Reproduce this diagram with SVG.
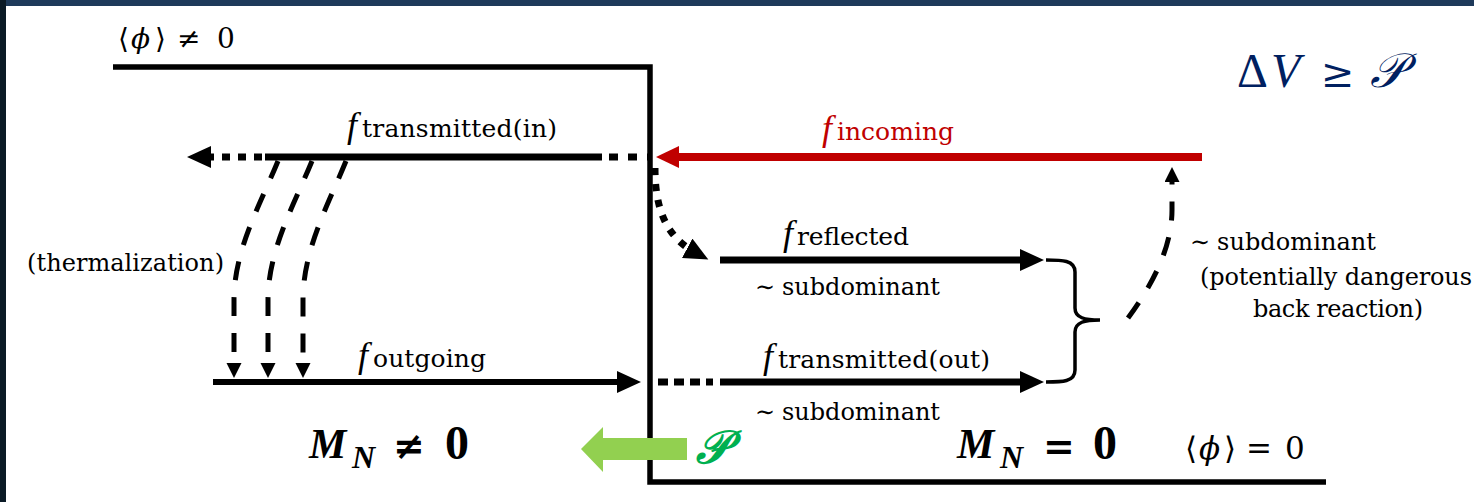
<svg xmlns="http://www.w3.org/2000/svg" width="1474" height="502" viewBox="0 0 1474 502">
<style>
.t{font-family:"DejaVu Serif",serif;font-size:24px;fill:#000}
.f{font-family:"Liberation Serif",serif;font-style:italic;font-size:36px;fill:#000}
.s{font-family:"DejaVu Serif",serif;font-style:normal;font-size:25px}
.m{font-family:"DejaVu Serif",serif;fill:#000}
.mb{font-family:"Liberation Serif",serif;font-weight:bold;font-style:italic;fill:#000}
.ln{fill:none;stroke:#000}
.red{fill:#c00000}
</style>
<defs>
<marker id="ah" markerUnits="userSpaceOnUse" markerWidth="26" markerHeight="24" refX="10" refY="11" orient="auto"><path d="M0,0 L24,11 L0,22 Z" fill="#000"/></marker>
<marker id="ahRed" markerUnits="userSpaceOnUse" markerWidth="26" markerHeight="24" refX="9" refY="11" orient="auto"><path d="M0,0 L23,11 L0,22 Z" fill="#c00000"/></marker>
<marker id="ahS" markerUnits="userSpaceOnUse" markerWidth="17" markerHeight="17" refX="5" refY="7.5" orient="auto"><path d="M0,0 L15,7.5 L0,15 Z" fill="#000"/></marker>
</defs>
<rect width="1474" height="502" fill="#fff"/>
<rect x="0" y="0" width="1474" height="6" fill="#1e3a5a"/>
<rect x="0" y="0" width="6" height="502" fill="#0b1a26"/>

<g id="wall">
<path class="ln" d="M113,67 H650 V482 H1326" stroke-width="5.5"/>
</g>

<g id="connectors">
<path class="ln" d="M602,157 H265" stroke-width="7"/>
<path class="ln" d="M609,157 H650" stroke-width="7" stroke-dasharray="9 10"/>
<path class="ln" d="M262,157 H201" stroke-width="7" stroke-dasharray="8 8" marker-end="url(#ah)"/>
<path fill="none" stroke="#c00000" d="M1202,157 H670" stroke-width="8" marker-end="url(#ahRed)"/>
<path class="ln" d="M655,168 C655,212 668,238 696,253" stroke-width="7" stroke-dasharray="7 9" marker-end="url(#ah)"/>
<path class="ln" d="M720,260 H1030" stroke-width="7" marker-end="url(#ah)"/>
<path class="ln" d="M213,382 H627" stroke-width="6" marker-end="url(#ah)"/>
<path class="ln" d="M658,382 H713" stroke-width="7" stroke-dasharray="10 6"/>
<path class="ln" d="M720,382 H1030" stroke-width="7" marker-end="url(#ah)"/>
<path class="ln" d="M278,161 C260,205 234,250 234,300 L234,368" stroke-width="5" stroke-dasharray="19 17" marker-end="url(#ahS)"/>
<path class="ln" d="M312,161 C294,205 268,250 268,300 L268,368" stroke-width="5" stroke-dasharray="19 17" marker-end="url(#ahS)"/>
<path class="ln" d="M346,161 C328,205 303,250 303,300 L303,368" stroke-width="5" stroke-dasharray="19 17" marker-end="url(#ahS)"/>
<path class="ln" d="M1046,260 C1062,260 1075,260 1075,272 L1075,308 C1075,318 1085,320 1100,320 C1085,320 1075,322 1075,332 L1075,370 C1075,382 1062,382 1046,382" stroke-width="3.5"/>
<path class="ln" d="M1128,318 C1150,288 1172,250 1172,210 L1172,177" stroke-width="5" stroke-dasharray="19 17" marker-end="url(#ahS)"/>
<polygon points="687,438 603,438 603,427 581,449 603,472 603,460 687,460" fill="#92d050"/>
</g>

<g id="phi-nonzero">
<text class="m" y="48" font-size="28"><tspan x="118">⟨</tspan><tspan x="131" font-style="italic">ϕ</tspan><tspan x="155">⟩</tspan><tspan x="177">≠</tspan><tspan x="217">0</tspan></text>
</g>
<g id="phi-zero">
<text class="m" y="459" font-size="31"><tspan x="1185">⟨</tspan><tspan x="1199" font-style="italic">ϕ</tspan><tspan x="1224">⟩</tspan><tspan x="1246">=</tspan><tspan x="1285">0</tspan></text>
</g>
<g id="deltaV">
<text y="87" fill="#002060" font-family="'Liberation Serif',serif" font-size="48"><tspan x="1237">Δ</tspan><tspan x="1271" font-style="italic">V</tspan><tspan x="1321" font-family="'DejaVu Serif',serif" font-size="40">≥</tspan><tspan x="1370" font-style="italic">𝒫</tspan></text>
</g>
<g id="f-transmitted-in">
<text class="f" x="347" y="137">f<tspan class="s" x="362" textLength="195">transmitted(in)</tspan></text>
</g>
<g id="f-incoming">
<text class="f red" x="822" y="140">f<tspan class="s" x="837" textLength="117">incoming</tspan></text>
</g>
<g id="f-reflected">
<text class="f" x="783" y="245">f<tspan class="s" x="797" textLength="112">reflected</tspan></text>
<text class="t" y="295"><tspan x="755">∼</tspan><tspan x="782" textLength="158">subdominant</tspan></text>
</g>
<g id="f-transmitted-out">
<text class="f" x="763" y="368">f<tspan class="s" x="778" textLength="212">transmitted(out)</tspan></text>
<text class="t" y="420"><tspan x="755">∼</tspan><tspan x="782" textLength="158">subdominant</tspan></text>
</g>
<g id="f-outgoing">
<text class="f" x="358" y="367">f<tspan class="s" x="373" textLength="113">outgoing</tspan></text>
</g>
<g id="thermalization">
<text class="t" x="27" y="271" textLength="197">(thermalization)</text>
</g>
<g id="back-reaction">
<text class="t" y="250"><tspan x="1190">∼</tspan><tspan x="1217" textLength="159">subdominant</tspan></text>
<text class="t" x="1200" y="285" textLength="272">(potentially dangerous</text>
<text class="t" x="1253" y="317" textLength="170">back reaction)</text>
</g>
<g id="mn-nonzero">
<text class="mb"><tspan x="309" y="458" font-size="42">M</tspan><tspan x="352" y="468" font-size="32">N</tspan><tspan x="393" y="459" font-size="38" font-family="'DejaVu Sans',sans-serif" font-style="normal">≠</tspan><tspan x="445" y="459" font-size="48" font-style="normal">0</tspan></text>
</g>
<g id="mn-zero">
<text class="mb"><tspan x="957" y="458" font-size="42">M</tspan><tspan x="1000" y="468" font-size="32">N</tspan><tspan x="1043" y="459" font-size="38" font-family="'DejaVu Sans',sans-serif" font-style="normal">=</tspan><tspan x="1093" y="459" font-size="48" font-style="normal">0</tspan></text>
</g>
<g id="pressure">
<text x="696" y="463" fill="#00b050" font-family="'Liberation Serif',serif" font-weight="bold" font-style="italic" font-size="46">𝒫</text>
</g>
</svg>
